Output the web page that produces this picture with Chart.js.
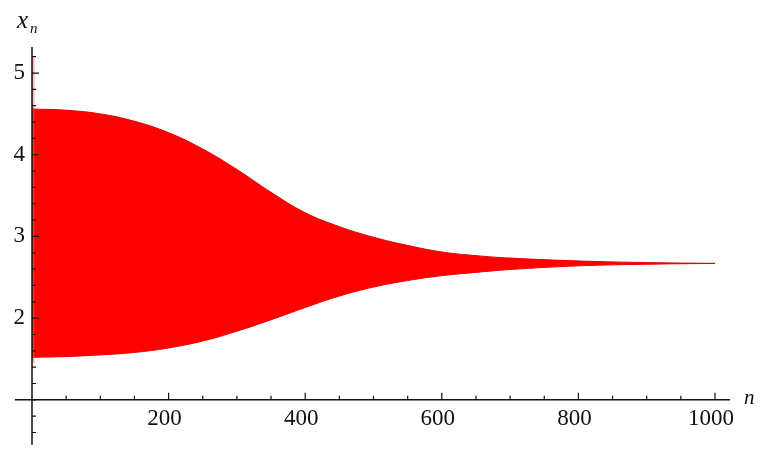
<!DOCTYPE html>
<html>
<head>
<meta charset="utf-8">
<script src="https://cdn.jsdelivr.net/npm/chart.js@4/dist/chart.umd.min.js"></script>
<style>
  html, body { margin: 0; padding: 0; background: #fff; }
  #wrap { width: 762px; height: 450px; position: relative; }
</style>
</head>
<body>
<div id="wrap"><canvas id="chart"></canvas></div>
<script>
  'use strict';

  // sample positions (n) and the envelope
  const nValues = [0, 50, 100, 150, 200, 250, 300, 350, 400, 450, 500, 550, 600, 650, 700, 800, 900, 1000];
  const upperValues = [4.56, 4.545, 4.50, 4.41, 4.27, 4.07, 3.82, 3.54, 3.29, 3.12, 2.99, 2.89, 2.81, 2.765, 2.735, 2.70, 2.68, 2.67];
  const lowerValues = [1.52, 1.53, 1.55, 1.58, 1.635, 1.72, 1.84, 1.98, 2.13, 2.27, 2.38, 2.46, 2.52, 2.56, 2.595, 2.64, 2.66, 2.67];

  // first few iterations swing wider (light band along the axis)
  const transientN = [0, 4];
  const transientUpper = [5.18, 5.18];
  const transientLower = [1.45, 1.45];

  // tick labels
  const xTicks = [200, 400, 600, 800, 1000];
  const yTicks = [2, 3, 4, 5];

  function toPoints(xs, ys) {
    return xs.map((x, i) => ({ x: x, y: ys[i] }));
  }

  const minorX = [];
  for (let v = 50; v <= 1000; v += 50) minorX.push(v);
  const minorY = [];
  for (let v = 0.6; v <= 5.21; v += 0.2) minorY.push(Math.round(v * 10) / 10);

  // Mathematica-like axes crossing at (0, 1)
  const axesPlugin = {
    id: 'mmaAxes',
    afterDatasetsDraw(chart) {
      const ctx = chart.ctx;
      const xs = chart.scales.x;
      const ys = chart.scales.y;
      const x0 = xs.getPixelForValue(0);
      const y0 = ys.getPixelForValue(1);

      ctx.save();
      ctx.strokeStyle = '#111';
      ctx.lineWidth = 1.5;

      // axis lines
      ctx.beginPath();
      ctx.moveTo(xs.getPixelForValue(-25), y0);
      ctx.lineTo(xs.getPixelForValue(1022), y0);
      ctx.moveTo(x0, ys.getPixelForValue(5.32));
      ctx.lineTo(x0, ys.getPixelForValue(0.45));
      ctx.stroke();

      // x ticks, pointing up
      ctx.lineWidth = 1.2;
      ctx.beginPath();
      minorX.forEach(v => {
        const px = xs.getPixelForValue(v);
        const len = xTicks.includes(v) ? 7 : 4;
        ctx.moveTo(px, y0);
        ctx.lineTo(px, y0 - len);
      });
      // y ticks, pointing right
      minorY.forEach(v => {
        const py = ys.getPixelForValue(v);
        const len = yTicks.includes(v) ? 7 : 4;
        ctx.moveTo(x0, py);
        ctx.lineTo(x0 + len, py);
      });
      ctx.stroke();

      // labels
      ctx.fillStyle = '#111';
      ctx.font = '23px "Liberation Serif", "DejaVu Serif", serif';
      ctx.textAlign = 'center';
      ctx.textBaseline = 'top';
      xTicks.forEach(v => {
        ctx.fillText(String(v), xs.getPixelForValue(v) - 4, y0 + 8);
      });
      ctx.textAlign = 'right';
      ctx.textBaseline = 'middle';
      yTicks.forEach(v => {
        ctx.fillText(String(v), x0 - 7, ys.getPixelForValue(v));
      });

      // axis names
      ctx.font = 'italic 25px "Liberation Serif", serif';
      ctx.textAlign = 'left';
      ctx.textBaseline = 'alphabetic';
      ctx.fillText('x', 17, 28);
      ctx.font = 'italic 15px "Liberation Serif", serif';
      ctx.fillText('n', 30, 33);
      ctx.font = 'italic 21px "Liberation Serif", serif';
      ctx.fillText('n', 744, 404);
      ctx.restore();
    }
  };

  const ctx = document.getElementById('chart');
  new Chart(ctx, {
    type: 'line',
    data: {
      datasets: [
        {
          label: 'transient upper',
          data: toPoints(transientN, transientUpper),
          borderColor: 'rgba(255,0,0,0)',
          backgroundColor: 'rgba(255,90,90,0.45)',
          borderWidth: 0,
          pointRadius: 0,
          fill: '+1'
        },
        {
          label: 'transient lower',
          data: toPoints(transientN, transientLower),
          borderColor: 'rgba(255,0,0,0)',
          borderWidth: 0,
          pointRadius: 0,
          fill: false
        },
        {
          label: 'upper',
          data: toPoints(nValues, upperValues),
          borderColor: '#e00000',
          backgroundColor: '#ff0000',
          borderWidth: 1,
          pointRadius: 0,
          tension: 0.4,
          fill: '+1'
        },
        {
          label: 'lower',
          data: toPoints(nValues, lowerValues),
          borderColor: '#e00000',
          borderWidth: 1,
          pointRadius: 0,
          tension: 0.4,
          fill: false
        }
      ]
    },
    options: {
      responsive: true,
      maintainAspectRatio: false,
      animation: false,
      layout: { padding: 0 },
      plugins: {
        legend: { display: false },
        tooltip: { enabled: false }
      },
      scales: {
        x: { type: 'linear', display: false, min: -46.85, max: 1068.8 },
        y: { type: 'linear', display: false, min: 0.386, max: 5.894 }
      }
    },
    plugins: [axesPlugin]
  });
</script>
</body>
</html>
